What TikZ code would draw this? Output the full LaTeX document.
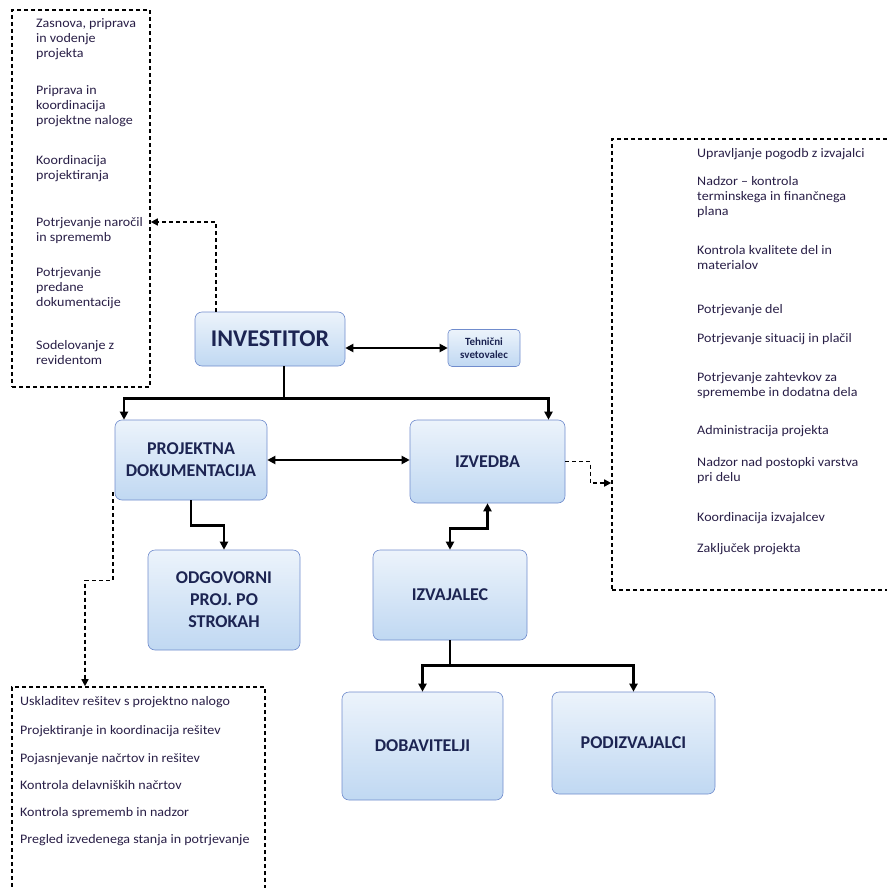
\documentclass[tikz,border=0pt]{standalone}
\usepackage{fontspec}
\setmainfont{Carlito}
\newfontfamily\listfont[FakeStretch=1.08,Ligatures=TeX]{Carlito}
\usetikzlibrary{arrows.meta,positioning}
\definecolor{boxblue}{RGB}{192,216,242}
\definecolor{boxline}{RGB}{112,140,205}
\definecolor{boxtext}{RGB}{28,36,82}
\definecolor{listtext}{RGB}{40,30,70}
\begin{document}
\begin{tikzpicture}[x=1pt,y=-1pt,>={Triangle[length=8pt,width=8pt]},
    box/.style={draw=boxline,line width=0.6pt,rounded corners=7pt,top color=boxblue!30,bottom color=boxblue,
      text=boxtext,font=\fontsize{18}{22}\selectfont\bfseries,align=center,inner sep=0pt},
    list/.style={draw,line width=1.6pt,dash pattern=on 4pt off 3pt,inner sep=0pt},
    item/.style={anchor=north west,inner sep=0pt,align=left,text=listtext,font=\listfont\fontsize{13}{15}\selectfont},
    link/.style={line width=2.4pt},
    dlink/.style={line width=1.6pt,dash pattern=on 4pt off 3pt,>={Triangle[length=7pt,width=7pt]}}]
  \useasboundingbox (0,0) rectangle (886,888);
  % naloge investitorja
  \node[list,minimum width=138pt,minimum height=377pt] (plan) at (81,198.5) {};
  \node[item] (p1) at (36,18) {Zasnova, priprava\\in vodenje\\projekta};
  \node[item] (p2) at (36,85) {Priprava in\\koordinacija\\projektne naloge};
  \node[item] (p3) at (36,155) {Koordinacija\\projektiranja};
  \node[item] (p4) at (36,217) {Potrjevanje naročil\\in sprememb};
  \node[item] (p5) at (36,267) {Potrjevanje\\predane\\dokumentacije};
  \node[item] (p6) at (36,340) {Sodelovanje z\\revidentom};
  % naloge pri izvedbi
  \node[list,minimum width=290pt,minimum height=451pt] (gradnja) at (757,364.5) {};
  \node[item] (g1) at (697,148) {Upravljanje pogodb z izvajalci};
  \node[item] (g2) at (697,176) {Nadzor -- kontrola\\terminskega in finančnega\\plana};
  \node[item] (g3) at (697,245) {Kontrola kvalitete del in\\materialov};
  \node[item] (g4) at (697,304) {Potrjevanje del};
  \node[item] (g5) at (697,333) {Potrjevanje situacij in plačil};
  \node[item] (g6) at (697,372) {Potrjevanje zahtevkov za\\spremembe in dodatna dela};
  \node[item] (g7) at (697,425) {Administracija projekta};
  \node[item] (g8) at (697,457) {Nadzor nad postopki varstva\\pri delu};
  \node[item] (g9) at (697,512) {Koordinacija izvajalcev};
  \node[item] (g10) at (697,543) {Zaključek projekta};
  % naloge projektantov
  \node[list,minimum width=253pt,minimum height=215pt] (nacrti) at (138.5,794.5) {};
  \node[item] (n1) at (20,696) {Uskladitev rešitev s projektno nalogo};
  \node[item] (n2) at (20,725) {Projektiranje in koordinacija rešitev};
  \node[item] (n3) at (20,753) {Pojasnjevanje načrtov in rešitev};
  \node[item] (n4) at (20,780) {Kontrola delavniških načrtov};
  \node[item] (n5) at (20,807) {Kontrola sprememb in nadzor};
  \node[item] (n6) at (20,834) {Pregled izvedenega stanja in potrjevanje};
  % udelezenci
  \node[box,minimum width=150pt,minimum height=54pt,font=\fontsize{24}{28}\selectfont\bfseries] (investitor) at (270,339) {INVESTITOR};
  \node[box,minimum width=72pt,minimum height=37pt,rounded corners=4pt,font=\fontsize{11}{13}\selectfont\bfseries] (svetovalec) at (484,348) {Tehnični\\svetovalec};
  \node[box,minimum width=152pt,minimum height=80pt] (projekt) at (191,460) {PROJEKTNA\\DOKUMENTACIJA};
  \node[box,minimum width=155pt,minimum height=83pt] (izvedba) at (487.5,461.5) {IZVEDBA};
  \node[box,minimum width=152pt,minimum height=100pt] (odgovorni) at (224,600) {ODGOVORNI\\PROJ. PO\\STROKAH};
  \node[box,minimum width=154pt,minimum height=90pt] (izvajalec) at (450,595) {IZVAJALEC};
  \node[box,minimum width=161pt,minimum height=108pt] (dobavitelji) at (422.5,746) {DOBAVITELJI};
  \node[box,minimum width=163pt,minimum height=102pt] (podizvajalci) at (633.5,743) {PODIZVAJALCI};
  % povezave
  \draw[link,<->] (svetovalec.west -| investitor.east) -- (svetovalec.west);
  \draw[link] ([xshift=14pt]investitor.south) -- ++(0,32) coordinate (razcep);
  \draw[link,->] (razcep) -| ([xshift=-67pt]projekt.north);
  \draw[link,->] (razcep) -| ([xshift=61pt]izvedba.north);
  \draw[link,<->] (projekt.east) -- (projekt.east -| izvedba.west);
  \draw[link,->] (projekt.south) -- ++(0,25) -| (odgovorni.north);
  \draw[link,<->] (izvedba.south) -- ++(0,25) -| (izvajalec.north);
  \draw[link] (izvajalec.south) -- ++(0,25) coordinate (razcep2);
  \draw[link,->] (razcep2) -| (dobavitelji.north);
  \draw[link,->] (razcep2) -| (podizvajalci.north);
  \draw[dlink,->] ([xshift=-54pt]investitor.north) |- (plan.east |- 0,222);
  \draw[dlink,->] (izvedba.east) -- ++(25,0) |- (gradnja.west |- 0,483);
  \draw[dlink,->] ([xshift=-2pt,yshift=8pt]projekt.south west) -- ++(0,88) -| (nacrti.north -| 85,0);
\end{tikzpicture}
\end{document}
